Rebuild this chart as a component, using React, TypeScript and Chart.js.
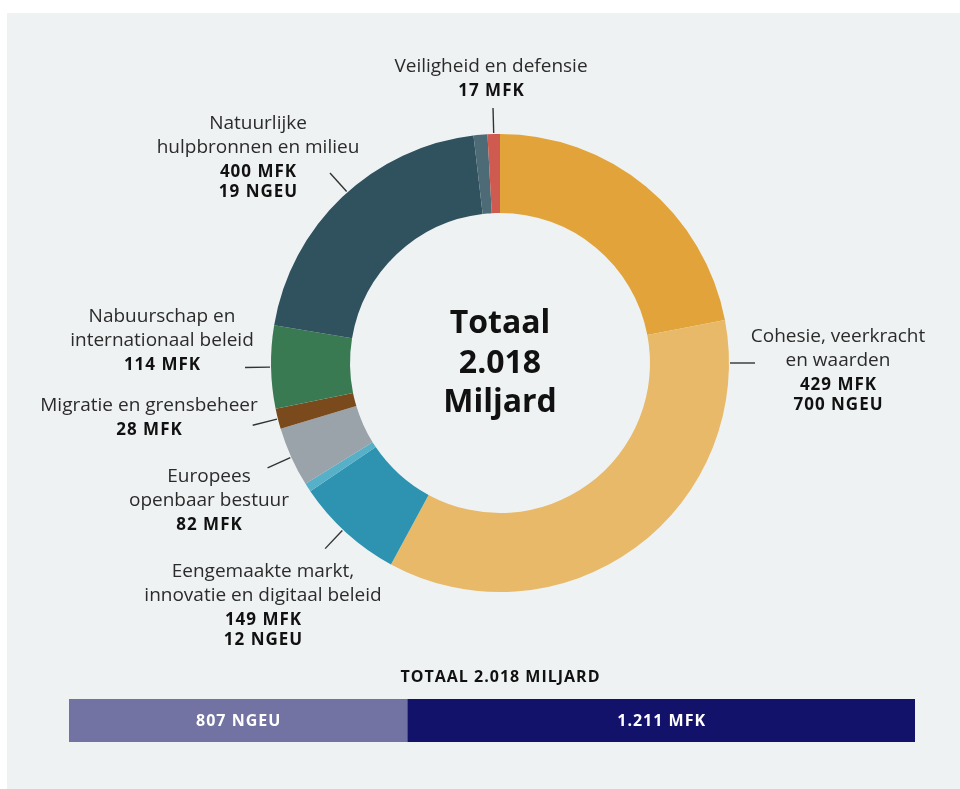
import React, { useEffect, useRef } from "react";
import { Chart, registerables } from "chart.js";

Chart.register(...registerables);

// ---------- DATA ----------
const segmentLabels = [
  "Cohesie, veerkracht en waarden (MFK)",
  "Cohesie, veerkracht en waarden (NGEU)",
  "Eengemaakte markt, innovatie en digitaal beleid (MFK)",
  "Eengemaakte markt, innovatie en digitaal beleid (NGEU)",
  "Europees openbaar bestuur (MFK)",
  "Migratie en grensbeheer (MFK)",
  "Nabuurschap en internationaal beleid (MFK)",
  "Natuurlijke hulpbronnen en milieu (MFK)",
  "Natuurlijke hulpbronnen en milieu (NGEU)",
  "Veiligheid en defensie (MFK)",
];
const segmentValues = [429, 700, 149, 12, 82, 28, 114, 400, 19, 17];
const segmentFunds = ["MFK", "NGEU", "MFK", "NGEU", "MFK", "MFK", "MFK", "MFK", "NGEU", "MFK"];
const segmentGroup = [0, 0, 1, 1, 2, 3, 4, 5, 5, 6];
const groupNames = [
  ["Cohesie, veerkracht", "en waarden"],
  ["Eengemaakte markt,", "innovatie en digitaal beleid"],
  ["Europees", "openbaar bestuur"],
  ["Migratie en grensbeheer"],
  ["Nabuurschap en", "internationaal beleid"],
  ["Natuurlijke", "hulpbronnen en milieu"],
  ["Veiligheid en defensie"],
];
const centerLines = ["Totaal", "2.018", "Miljard"];
const barTitle = "TOTAAL 2.018 MILJARD";
const fundNames = ["NGEU", "MFK"];
const fundTotals = [807, 1211];
const grandTotal = 2018;

// ---------- STYLE / LAYOUT ----------
const segmentColors = [
  "#e2a43a", "#e8b968", "#2d93b0", "#56b0c8", "#9aa2aa",
  "#7a4a1d", "#3a7a52", "#30515e", "#4c6b76", "#cf5a4f",
];
const fundColors = ["#7272a3", "#13126a"];
const FONT = "'Open Sans', 'Noto Sans', sans-serif";
const TEXT = "#2b2b2b";
// per group: text centre x, first baseline y, optional leader angle (deg clockwise from top)
const labelLayout: { x: number; y: number; angle?: number }[] = [
  { x: 838, y: 342, angle: 90 },
  { x: 263, y: 577 },
  { x: 209, y: 482 },
  { x: 149, y: 411 },
  { x: 162, y: 322 },
  { x: 258, y: 129 },
  { x: 491, y: 72 },
];

const fmt = (n: number) => String(n).replace(/\B(?=(\d{3})+(?!\d))/g, ".");

const setSpacing = (ctx: any, v: string) => {
  if ("letterSpacing" in ctx) ctx.letterSpacing = v;
};

const doughnutLabels = {
  id: "doughnutLabels",
  afterDraw(chart: any) {
    const ctx = chart.ctx;
    const meta = chart.getDatasetMeta(0);
    const arcs = meta.data as any[];
    if (!arcs.length) return;
    const cx = arcs[0].x;
    const cy = arcs[0].y;
    const outer = arcs[0].outerRadius;
    ctx.save();
    // center text
    ctx.fillStyle = "#111";
    ctx.textAlign = "center";
    ctx.textBaseline = "alphabetic";
    setSpacing(ctx, "0px");
    ctx.font = `bold 32px ${FONT}`;
    centerLines.forEach((t, i) => ctx.fillText(t, cx, cy - 30 + i * 39.5));

    groupNames.forEach((lines, g) => {
      const idx = segmentGroup.map((s, i) => (s === g ? i : -1)).filter((i) => i >= 0);
      const start = arcs[idx[0]].startAngle;
      const end = arcs[idx[idx.length - 1]].endAngle;
      const lay = labelLayout[g];
      const a = lay.angle !== undefined ? -Math.PI / 2 + (lay.angle * Math.PI) / 180 : (start + end) / 2;
      // leader line
      ctx.strokeStyle = "#333";
      ctx.lineWidth = 1.4;
      ctx.beginPath();
      ctx.moveTo(cx + Math.cos(a) * (outer + 1), cy + Math.sin(a) * (outer + 1));
      ctx.lineTo(cx + Math.cos(a) * (outer + 26), cy + Math.sin(a) * (outer + 26));
      ctx.stroke();
      // text
      let y = lay.y;
      ctx.fillStyle = TEXT;
      setSpacing(ctx, "0px");
      ctx.font = `19px ${FONT}`;
      lines.forEach((t, i) => {
        if (i > 0) y += 24;
        ctx.fillText(t, lay.x, y);
      });
      ctx.fillStyle = "#111";
      ctx.font = `bold 17px ${FONT}`;
      setSpacing(ctx, "1px");
      idx.forEach((si, j) => {
        y += j === 0 ? 24 : 20;
        ctx.fillText(`${segmentValues[si]} ${segmentFunds[si]}`, lay.x + 0.5, y);
      });
    });
    ctx.restore();
  },
};

const barLabels = {
  id: "barLabels",
  afterDraw(chart: any) {
    const ctx = chart.ctx;
    ctx.save();
    ctx.textAlign = "center";
    ctx.fillStyle = "#111";
    ctx.font = `bold 16px ${FONT}`;
    setSpacing(ctx, "1px");
    ctx.textBaseline = "alphabetic";
    ctx.fillText(barTitle, 500.5, 682);
    ctx.textBaseline = "middle";
    ctx.fillStyle = "#ffffff";
    chart.data.datasets.forEach((ds: any, i: number) => {
      const el = chart.getDatasetMeta(i).data[0] as any;
      if (!el) return;
      ctx.fillText(`${fmt(fundTotals[i])} ${fundNames[i]}`, (el.x + el.base) / 2 + 0.5, el.y + 1);
    });
    ctx.restore();
  },
};

export default function App() {
  const donutRef = useRef<HTMLCanvasElement>(null);
  const barRef = useRef<HTMLCanvasElement>(null);

  useEffect(() => {
    const donut = new Chart(donutRef.current!, {
      type: "doughnut",
      data: {
        labels: segmentLabels,
        datasets: [
          {
            data: segmentValues,
            backgroundColor: segmentColors,
            borderWidth: 0,
            hoverOffset: 0,
          },
        ],
      },
      options: {
        responsive: false,
        animation: false,
        cutout: "65.5%",
        layout: { padding: { left: 271, right: 231, top: 134, bottom: 197 } },
        plugins: { legend: { display: false }, tooltip: { enabled: false } },
      },
      plugins: [doughnutLabels],
    });

    const bar = new Chart(barRef.current!, {
      type: "bar",
      data: {
        labels: [""],
        datasets: fundNames.map((n, i) => ({
          label: n,
          data: [fundTotals[i]],
          backgroundColor: fundColors[i],
          borderWidth: 0,
          barPercentage: 1,
          categoryPercentage: 1,
        })),
      },
      options: {
        indexAxis: "y",
        responsive: false,
        animation: false,
        layout: { padding: { left: 69, right: 45, top: 699, bottom: 47 } },
        scales: {
          x: { stacked: true, display: false, min: 0, max: grandTotal },
          y: { stacked: true, display: false },
        },
        plugins: { legend: { display: false }, tooltip: { enabled: false } },
      },
      plugins: [barLabels],
    });

    return () => {
      donut.destroy();
      bar.destroy();
    };
  }, []);

  return (
    <div style={{ position: "fixed", inset: 0, background: "#ffffff" }}>
      <div style={{ position: "absolute", left: 7, top: 13, right: 0, bottom: 0, background: "#eff2f3" }} />
      <canvas ref={barRef} width={960} height={789} style={{ position: "absolute", left: 0, top: 0 }} />
      <canvas ref={donutRef} width={960} height={789} style={{ position: "absolute", left: 0, top: 0 }} />
    </div>
  );
}
